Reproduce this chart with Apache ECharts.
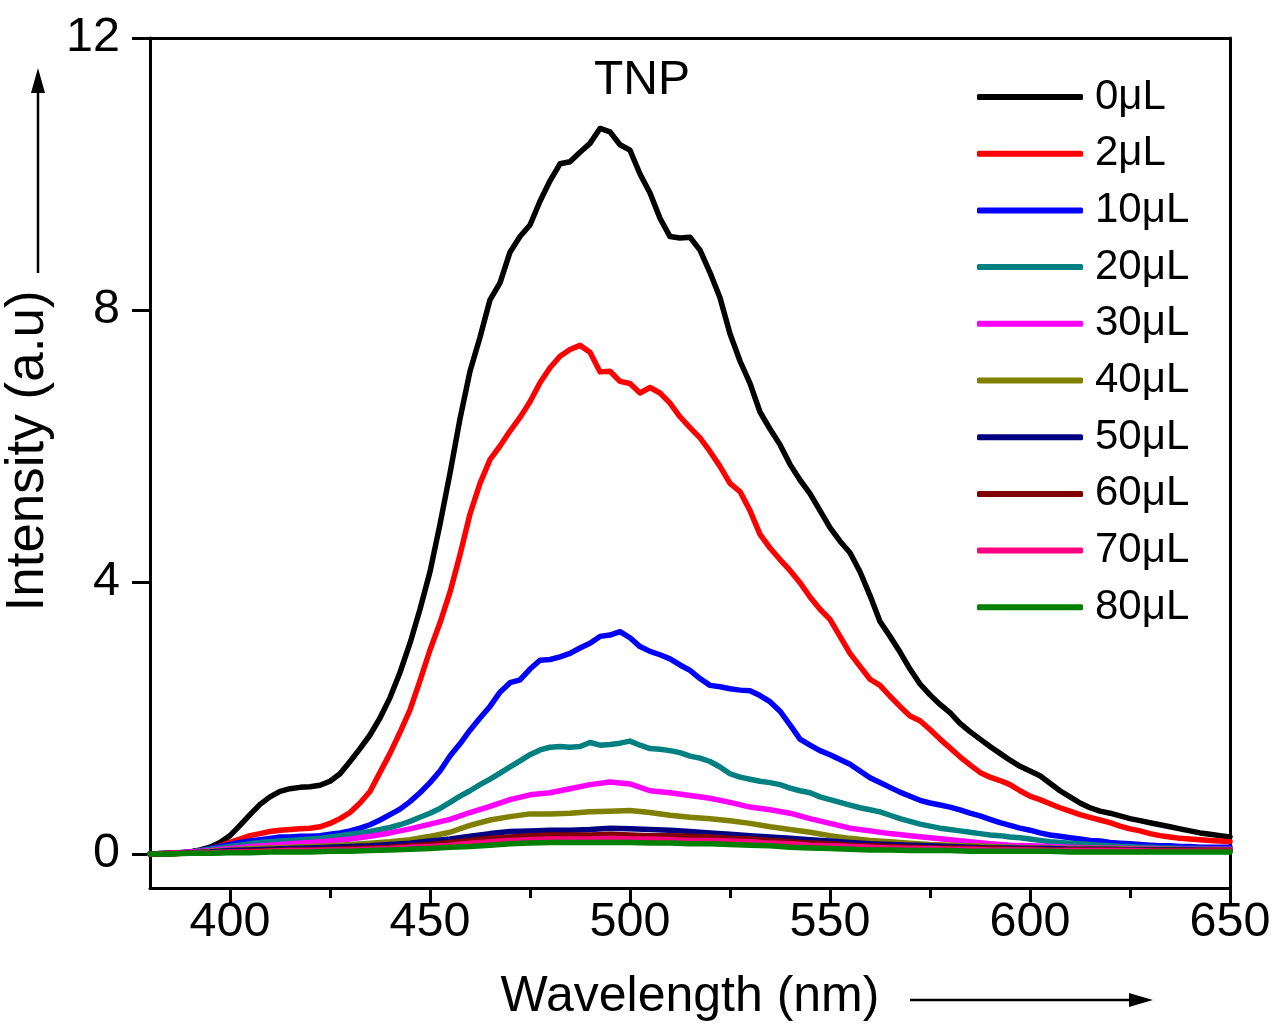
<!DOCTYPE html>
<html>
<head>
<meta charset="utf-8">
<script src="https://cdn.jsdelivr.net/npm/echarts@6/dist/echarts.min.js"></script>
<style>
html,body{margin:0;padding:0;background:#fff;}
#chart{width:1276px;height:1026px;}
</style>
</head>
<body>
<div id="chart"></div>
<script>
// Wavelength samples (nm)
const wlFine = [
  380,382.5,385,387.5,390,392.5,395,397.5,400,402.5,
  405,407.5,410,412.5,415,417.5,420,422.5,425,427.5,
  430,432.5,435,437.5,440,442.5,445,447.5,450,452.5,
  455,457.5,460,462.5,465,467.5,470,472.5,475,477.5,
  480,482.5,485,487.5,490,492.5,495,497.5,500,502.5,
  505,507.5,510,512.5,515,517.5,520,522.5,525,527.5,
  530,532.5,535,537.5,540,542.5,545,547.5,550,552.5,
  555,557.5,560,562.5,565,567.5,570,572.5,575,577.5,
  580,582.5,585,587.5,590,592.5,595,597.5,600,602.5,
  605,607.5,610,612.5,615,617.5,620,622.5,625,627.5,
  630,632.5,635,637.5,640,642.5,645,647.5,650
];
const wlCoarse = [
  380,385,390,395,400,405,410,415,420,425,
  430,435,440,445,450,455,460,465,470,475,
  480,485,490,495,500,505,510,515,520,525,
  530,535,540,545,550,555,560,565,570,575,
  580,585,590,595,600,605,610,615,620,625,
  630,635,640,645,650
];

// Intensities (a.u)
const s0uL = [
  0,0,0,0.01,0.03,0.06,0.10,0.17,0.27,0.42,
  0.58,0.73,0.84,0.92,0.96,0.98,0.99,1.01,1.07,1.18,
  1.36,1.55,1.75,2.0,2.3,2.67,3.1,3.6,4.15,4.85,
  5.6,6.4,7.1,7.6,8.15,8.4,8.85,9.08,9.25,9.6,
  9.9,10.15,10.18,10.32,10.45,10.67,10.62,10.43,10.35,10.0,
  9.72,9.35,9.08,9.06,9.07,8.88,8.55,8.18,7.65,7.25,
  6.92,6.5,6.25,6.02,5.73,5.5,5.3,5.05,4.8,4.6,
  4.43,4.15,3.8,3.42,3.2,2.97,2.72,2.5,2.34,2.2,
  2.08,1.92,1.8,1.69,1.58,1.48,1.38,1.29,1.22,1.15,
  1.04,0.93,0.84,0.75,0.68,0.63,0.6,0.56,0.52,0.49,
  0.46,0.43,0.4,0.37,0.34,0.31,0.29,0.27,0.25
];
const s2uL = [
  0,0,0,0.01,0.03,0.05,0.08,0.12,0.17,0.22,
  0.27,0.3,0.33,0.35,0.36,0.37,0.38,0.4,0.45,0.52,
  0.61,0.75,0.92,1.2,1.48,1.79,2.12,2.55,3.0,3.4,
  3.85,4.4,5.0,5.45,5.8,6.0,6.22,6.42,6.65,6.93,
  7.15,7.32,7.42,7.48,7.38,7.09,7.1,6.95,6.92,6.78,
  6.86,6.78,6.63,6.43,6.27,6.12,5.92,5.7,5.45,5.33,
  5.05,4.7,4.5,4.33,4.17,3.99,3.78,3.6,3.45,3.2,
  2.95,2.76,2.57,2.48,2.32,2.17,2.03,1.96,1.83,1.69,
  1.56,1.43,1.31,1.2,1.13,1.08,1.02,0.93,0.85,0.8,
  0.74,0.68,0.63,0.58,0.54,0.5,0.46,0.41,0.37,0.34,
  0.3,0.27,0.25,0.23,0.22,0.21,0.2,0.19,0.18
];
const s10uL = [
  0,0,0.01,0.02,0.03,0.05,0.08,0.11,0.14,0.17,
  0.19,0.21,0.23,0.25,0.25,0.26,0.26,0.27,0.29,0.31,
  0.34,0.38,0.43,0.5,0.58,0.66,0.77,0.9,1.05,1.22,
  1.44,1.62,1.82,2.0,2.17,2.38,2.52,2.56,2.72,2.85,
  2.86,2.9,2.95,3.03,3.1,3.2,3.22,3.27,3.18,3.05,
  2.98,2.93,2.87,2.78,2.7,2.58,2.48,2.46,2.43,2.41,
  2.4,2.33,2.24,2.1,1.9,1.69,1.6,1.52,1.46,1.39,
  1.32,1.22,1.12,1.05,0.98,0.91,0.85,0.79,0.75,0.72,
  0.69,0.65,0.6,0.56,0.51,0.46,0.42,0.38,0.35,0.31,
  0.28,0.26,0.24,0.22,0.2,0.19,0.17,0.16,0.15,0.14,
  0.13,0.12,0.12,0.11,0.11,0.1,0.1,0.1,0.1
];
const s20uL = [
  0,0,0.01,0.02,0.03,0.05,0.07,0.09,0.11,0.13,
  0.15,0.17,0.18,0.19,0.2,0.21,0.22,0.23,0.25,0.27,
  0.29,0.31,0.33,0.36,0.39,0.43,0.48,0.54,0.6,0.67,
  0.76,0.85,0.93,1.02,1.1,1.19,1.28,1.37,1.46,1.53,
  1.57,1.58,1.57,1.58,1.64,1.6,1.61,1.63,1.66,1.6,
  1.55,1.54,1.52,1.49,1.44,1.41,1.36,1.28,1.18,1.13,
  1.1,1.07,1.05,1.02,0.97,0.93,0.9,0.84,0.8,0.76,
  0.72,0.68,0.65,0.62,0.57,0.52,0.48,0.44,0.41,0.38,
  0.36,0.34,0.32,0.3,0.28,0.27,0.25,0.24,0.22,0.2,
  0.18,0.17,0.16,0.15,0.14,0.13,0.12,0.11,0.11,0.1,
  0.1,0.09,0.09,0.08,0.08,0.08,0.07,0.07,0.07
];
const s30uL = [
  0,0.01,0.03,0.05,0.08,0.11,0.13,0.15,0.17,0.19,
  0.22,0.26,0.31,0.37,0.44,0.51,0.61,0.7,0.8,0.87,
  0.9,0.96,1.02,1.06,1.03,0.93,0.9,0.86,0.82,0.76,
  0.69,0.65,0.6,0.52,0.45,0.38,0.34,0.3,0.27,0.24,
  0.21,0.18,0.15,0.13,0.12,0.11,0.1,0.09,0.09,0.08,
  0.08,0.07,0.07,0.07,0.07
];
const s40uL = [
  0,0.01,0.02,0.04,0.06,0.08,0.09,0.1,0.11,0.12,
  0.14,0.16,0.18,0.21,0.26,0.32,0.42,0.5,0.55,0.59,
  0.59,0.6,0.62,0.63,0.64,0.61,0.57,0.54,0.52,0.49,
  0.45,0.4,0.36,0.32,0.27,0.23,0.2,0.18,0.16,0.14,
  0.13,0.12,0.11,0.1,0.09,0.09,0.08,0.08,0.08,0.07,
  0.07,0.07,0.06,0.06,0.06
];
const s50uL = [
  0,0.01,0.02,0.03,0.05,0.06,0.07,0.08,0.09,0.1,
  0.11,0.12,0.14,0.16,0.19,0.22,0.26,0.3,0.33,0.34,
  0.35,0.35,0.36,0.38,0.37,0.36,0.35,0.33,0.31,0.29,
  0.27,0.25,0.23,0.21,0.19,0.17,0.15,0.14,0.13,0.12,
  0.11,0.1,0.09,0.09,0.08,0.08,0.07,0.07,0.07,0.06,
  0.06,0.06,0.06,0.05,0.05
];
const s60uL = [
  0,0.01,0.01,0.02,0.03,0.04,0.05,0.06,0.06,0.07,
  0.08,0.09,0.1,0.12,0.14,0.17,0.2,0.23,0.25,0.27,
  0.28,0.28,0.28,0.29,0.28,0.27,0.27,0.26,0.25,0.23,
  0.22,0.2,0.18,0.16,0.15,0.13,0.12,0.11,0.1,0.09,
  0.09,0.08,0.08,0.07,0.07,0.06,0.06,0.06,0.06,0.05,
  0.05,0.05,0.05,0.05,0.05
];
const s70uL = [
  0,0.01,0.01,0.02,0.03,0.03,0.04,0.05,0.05,0.06,
  0.06,0.07,0.08,0.1,0.11,0.13,0.16,0.18,0.2,0.21,
  0.22,0.22,0.22,0.23,0.22,0.22,0.21,0.2,0.2,0.19,
  0.18,0.16,0.15,0.13,0.12,0.11,0.1,0.09,0.08,0.08,
  0.07,0.07,0.06,0.06,0.06,0.05,0.05,0.05,0.05,0.05,
  0.04,0.04,0.04,0.04,0.04
];
const s80uL = [
  0,0,0.01,0.01,0.02,0.02,0.03,0.03,0.03,0.04,
  0.04,0.05,0.06,0.07,0.08,0.1,0.11,0.13,0.15,0.16,
  0.17,0.17,0.17,0.17,0.17,0.16,0.16,0.15,0.15,0.14,
  0.13,0.12,0.1,0.09,0.08,0.07,0.06,0.06,0.05,0.05,
  0.05,0.04,0.04,0.04,0.04,0.04,0.03,0.03,0.03,0.03,
  0.03,0.03,0.03,0.03,0.03
];

const seriesNames = ['0μL','2μL','10μL','20μL','30μL','40μL','50μL','60μL','70μL','80μL'];
const seriesColors = ['#000000','#FF0000','#0000FF','#008080','#FF00FF','#808000','#000080','#800000','#FF0080','#008000'];
const seriesValues = [s0uL,s2uL,s10uL,s20uL,s30uL,s40uL,s50uL,s60uL,s70uL,s80uL];
const seriesWl = [wlFine,wlFine,wlFine,wlFine,wlCoarse,wlCoarse,wlCoarse,wlCoarse,wlCoarse,wlCoarse];

const xMajorTicks = [400,450,500,550,600,650];
const xMinorTicks = [425,475,525,575,625];
const yMajorTicks = [0,4,8,12];

const FONT = "'Liberation Sans', Arial, sans-serif";

const chart = echarts.init(document.getElementById('chart'), null, {renderer: 'canvas'});

const series = seriesNames.map((name, k) => ({
  name: name,
  type: 'line',
  xAxisIndex: 0,
  yAxisIndex: 0,
  symbol: 'none',
  showSymbol: false,
  smooth: false,
  clip: true,
  lineStyle: {width: 5.5, color: seriesColors[k], cap: 'round', join: 'round'},
  itemStyle: {color: seriesColors[k]},
  data: seriesWl[k].map((w, i) => [w, seriesValues[k][i]])
}));

const option = {
  animation: false,
  backgroundColor: '#ffffff',
  color: seriesColors,
  textStyle: {fontFamily: FONT},
  grid: {left: 150, right: 46, top: 38, bottom: 138, containLabel: false, outerBoundsMode: 'none'},
  legend: {
    orient: 'vertical',
    left: 977,
    top: 75,
    padding: 0,
    itemWidth: 106,
    itemHeight: 6,
    itemGap: 12.7,
    icon: 'roundRect',
    data: seriesNames,
    textStyle: {fontFamily: FONT, fontSize: 42, color: '#000', lineHeight: 44, padding: [0, 0, 0, 7]}
  },
  xAxis: [
    {
      type: 'value', min: 380, max: 650, position: 'bottom',
      name: 'Wavelength (nm)', nameLocation: 'middle', nameGap: 84,
      nameTextStyle: {fontFamily: FONT, fontSize: 50, color: '#000'},
      axisLine: {show: true, onZero: false, lineStyle: {color: '#000', width: 3}},
      axisTick: {show: true, inside: false, length: 18, customValues: xMajorTicks, lineStyle: {color: '#000', width: 3}},
      axisLabel: {show: true, margin: 10, customValues: xMajorTicks, fontFamily: FONT, fontSize: 48.5, color: '#000'},
      splitLine: {show: false}
    },
    {
      type: 'value', min: 380, max: 650, position: 'bottom',
      axisLine: {show: false, onZero: false},
      axisTick: {show: true, inside: false, length: 10, customValues: xMinorTicks, lineStyle: {color: '#000', width: 3}},
      axisLabel: {show: false},
      splitLine: {show: false}
    },
    {
      type: 'value', min: 380, max: 650, position: 'top',
      axisLine: {show: true, onZero: false, lineStyle: {color: '#000', width: 3}},
      axisTick: {show: false}, axisLabel: {show: false}, splitLine: {show: false}
    }
  ],
  yAxis: [
    {
      type: 'value', min: -0.5, max: 12, position: 'left',
      name: 'Intensity (a.u)', nameLocation: 'middle', nameGap: 89,
      nameTextStyle: {fontFamily: FONT, fontSize: 53, color: '#000', padding: [0, 0, 0, 24]},
      axisLine: {show: true, onZero: false, lineStyle: {color: '#000', width: 3}},
      axisTick: {show: true, inside: false, length: 18, customValues: yMajorTicks, lineStyle: {color: '#000', width: 3}},
      axisLabel: {show: true, margin: 30, customValues: yMajorTicks, fontFamily: FONT, fontSize: 48.5, color: '#000'},
      splitLine: {show: false}
    },
    {
      type: 'value', min: -0.5, max: 12, position: 'right',
      axisLine: {show: true, onZero: false, lineStyle: {color: '#000', width: 3}},
      axisTick: {show: false}, axisLabel: {show: false}, splitLine: {show: false}
    }
  ],
  graphic: [
    {type: 'text', x: 642, y: 81, style: {text: 'TNP', fontFamily: FONT, fontSize: 48, fill: '#000', textAlign: 'center', textVerticalAlign: 'middle'}},
    {type: 'line', shape: {x1: 38, y1: 273, x2: 38, y2: 88}, style: {stroke: '#000', lineWidth: 2.5}},
    {type: 'polygon', shape: {points: [[38, 68], [31, 93], [45, 93]]}, style: {fill: '#000'}},
    {type: 'line', shape: {x1: 910, y1: 1000, x2: 1133, y2: 1000}, style: {stroke: '#000', lineWidth: 2.5}},
    {type: 'polygon', shape: {points: [[1153, 1000], [1129, 993], [1129, 1007]]}, style: {fill: '#000'}}
  ],
  series: series
};

chart.setOption(option);
</script>
</body>
</html>
